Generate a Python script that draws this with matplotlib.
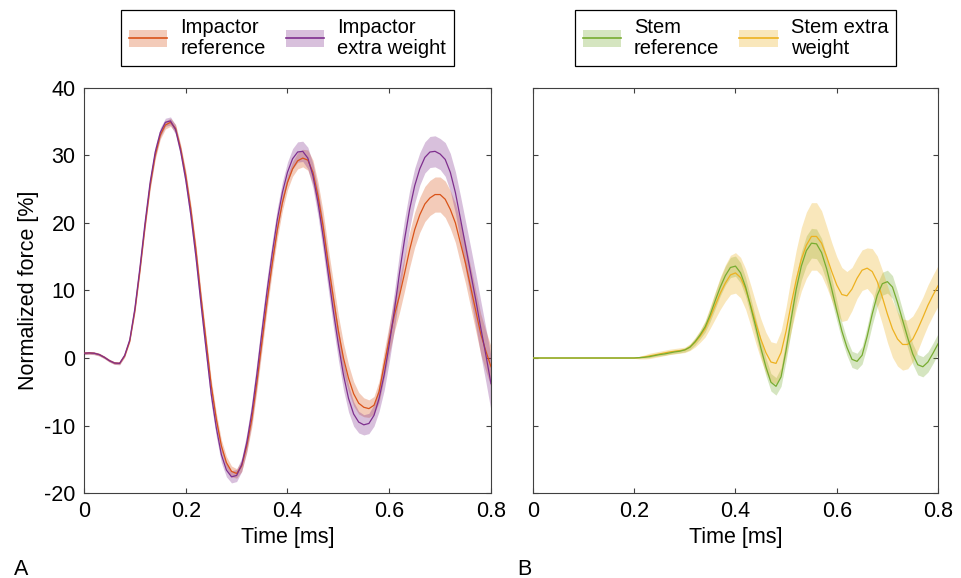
import numpy as np
import matplotlib
matplotlib.use("Agg")
import matplotlib.pyplot as plt
from matplotlib.patches import Patch
from matplotlib.lines import Line2D

plt.rcParams['font.family'] = ['Liberation Sans', 'DejaVu Sans']
plt.rcParams['font.size'] = 15.5
plt.rcParams['axes.unicode_minus'] = False

# time axis [ms], sampled every 0.01 ms
t = np.round(np.arange(0, 0.801, 0.01), 2)

# panel A: impactor, normalized force [%] (mean and band half-width)
imp_ref = [0.7, 0.75, 0.7, 0.5, 0.1, -0.4, -0.75, -0.8, 0.3, 2.5,
           7.0, 13.0, 19.5, 25.5, 30.0, 33.0, 34.5, 34.9, 34.0, 31.0,
           27.0, 22.0, 16.0, 9.0, 2.5, -4.0, -9.0, -13.0, -15.5, -16.8,
           -17.1, -16.0, -13.0, -9.0, -3.5, 2.5, 8.5, 14.0, 19.0, 23.0,
           26.0, 28.0, 29.2, 29.6, 29.3, 27.5, 24.0, 19.5, 14.0, 9.0,
           4.0, 0.0, -3.0, -5.3, -6.7, -7.3, -7.5, -7.0, -5.0, -1.0,
           2.8, 6.3, 9.2, 12.5, 16.0, 19.0, 21.2, 22.8, 23.7, 24.2,
           24.2, 23.5, 22.0, 20.0, 17.0, 14.0, 10.5, 7.0, 3.5, 1.0, -1.3]
imp_ref_sd = [0.2] * 10 + \
    [0.4, 0.5, 0.5, 0.6, 0.6, 0.6, 0.6, 0.6, 0.6, 0.6,
     0.8, 0.8, 0.9, 0.9, 0.9, 0.9, 0.9, 0.9, 0.9, 0.8,
     0.7, 0.8, 1.0, 1.2, 1.3, 1.3, 1.3, 1.3, 1.3, 1.2,
     1.1, 1.1, 1.2, 1.3, 1.5, 1.8, 2.0, 2.2, 2.3, 2.3,
     2.3, 2.2, 2.0, 1.8, 1.6, 1.4, 1.3, 1.3, 1.6, 2.0,
     2.2, 2.4, 2.5, 2.6, 2.6, 2.6, 2.6, 2.6, 2.6, 2.6,
     2.6, 2.7, 2.8, 2.9, 3.0, 3.0, 3.0, 3.0, 3.0, 3.0, 3.0]

imp_xw = [0.7, 0.75, 0.7, 0.5, 0.1, -0.4, -0.75, -0.8, 0.4, 2.7,
          7.3, 13.4, 20.0, 26.0, 30.5, 33.4, 34.9, 35.1, 33.8, 30.6,
          26.4, 21.2, 15.0, 8.0, 1.3, -5.3, -10.3, -14.3, -16.6, -17.6,
          -17.4, -15.8, -12.5, -8.0, -2.3, 4.0, 10.0, 15.5, 20.5, 24.5,
          27.5, 29.5, 30.5, 30.6, 29.6, 27.0, 23.0, 18.0, 12.5, 7.0,
          2.0, -2.5, -6.0, -8.3, -9.5, -9.9, -9.7, -8.5, -6.0, -2.5,
          2.0, 7.0, 12.5, 17.5, 22.0, 25.5, 28.0, 29.7, 30.5, 30.6,
          30.2, 29.4, 27.5, 24.5, 20.6, 16.6, 12.6, 8.6, 4.4, 0.4, -3.8]
imp_xw_sd = [0.2] * 10 + \
    [0.5, 0.6, 0.7, 0.8, 0.8, 0.7, 0.6, 0.6, 0.7, 0.8,
     1.0, 1.2, 1.3, 1.4, 1.4, 1.4, 1.3, 1.2, 1.0, 0.9,
     0.9, 1.0, 1.3, 1.6, 1.8, 1.9, 1.9, 1.8, 1.7, 1.6,
     1.5, 1.5, 1.5, 1.5, 1.6, 1.8, 2.0, 2.2, 2.3, 2.3,
     2.3, 2.2, 2.0, 1.8, 1.6, 1.5, 1.5, 1.6, 1.9, 2.3,
     2.6, 2.8, 3.0, 3.0, 2.8, 2.6, 2.4, 2.3, 2.3, 2.3,
     2.3, 2.5, 2.8, 3.1, 3.4, 3.6, 3.8, 3.9, 4.0, 4.0, 4.0]

# panel B: stem
stem_ref = [0.0] * 21 + \
    [0.05, 0.1, 0.2, 0.35, 0.5, 0.6, 0.75, 0.9, 1.0, 1.2,
     1.6, 2.4, 3.4, 4.6, 6.4, 8.5, 10.5, 12.2, 13.4, 13.6,
     12.6, 10.5, 7.6, 4.6, 1.5, -1.3, -3.6, -4.2, -2.8, 1.2,
     5.8, 10.2, 13.6, 15.9, 17.0, 16.9, 15.6, 13.2, 10.2, 7.0,
     4.0, 1.6, -0.2, -0.5, 0.4, 3.2, 6.5, 9.3, 11.0, 11.3,
     10.5, 8.2, 5.6, 3.0, 0.6, -1.0, -1.3, -0.6, 0.7, 2.1]
stem_ref_sd = [0.05] * 21 + \
    [0.1, 0.1, 0.15, 0.15, 0.2, 0.2, 0.2, 0.25, 0.25, 0.3,
     0.4, 0.5, 0.6, 0.8, 1.0, 1.2, 1.3, 1.4, 1.5, 1.5,
     1.5, 1.4, 1.3, 1.3, 1.3, 1.3, 1.3, 1.3, 1.4, 1.6,
     1.8, 2.0, 2.1, 2.2, 2.2, 2.2, 2.1, 1.9, 1.7, 1.5,
     1.3, 1.2, 1.2, 1.2, 1.3, 1.5, 1.6, 1.7, 1.7, 1.7,
     1.7, 1.6, 1.5, 1.5, 1.5, 1.5, 1.5, 1.5, 1.5, 1.5]

stem_xw = [0.0] * 21 + \
    [0.05, 0.15, 0.3, 0.45, 0.6, 0.75, 0.9, 1.0, 1.1, 1.2,
     1.6, 2.3, 3.2, 4.3, 6.0, 7.8, 9.6, 11.1, 12.3, 12.6,
     11.9, 10.2, 7.8, 5.2, 2.8, 0.8, -0.6, -0.8, 0.8, 4.0,
     8.0, 11.6, 14.6, 16.7, 18.0, 18.0, 17.0, 15.0, 12.8, 10.8,
     9.4, 9.2, 10.2, 11.8, 13.0, 13.3, 12.8, 11.3, 9.0, 6.5,
     4.3, 2.8, 2.0, 2.0, 2.8, 4.3, 6.0, 7.8, 9.3, 10.7]
stem_xw_sd = [0.05] * 21 + \
    [0.2, 0.3, 0.4, 0.4, 0.4, 0.4, 0.4, 0.4, 0.4, 0.4,
     0.5, 0.7, 0.9, 1.2, 1.6, 2.0, 2.4, 2.7, 2.9, 3.0,
     3.0, 3.0, 3.0, 3.0, 3.0, 3.0, 3.0, 3.0, 3.2, 3.6,
     4.0, 4.4, 4.7, 4.9, 5.0, 5.0, 4.8, 4.5, 4.3, 4.2,
     4.0, 3.6, 3.2, 3.0, 3.0, 3.0, 3.4, 3.8, 4.0, 4.2,
     4.2, 4.0, 3.8, 3.6, 3.4, 3.2, 3.0, 3.0, 3.0, 3.0]

# (label, mean, half-width, colour, line zorder)
panel_a = [("Impactor\nreference", imp_ref, imp_ref_sd, "#D95319", 3),
           ("Impactor\nextra weight", imp_xw, imp_xw_sd, "#7E2F8E", 4)]
panel_b = [("Stem\nreference", stem_ref, stem_ref_sd, "#77AC30", 4),
           ("Stem extra\nweight", stem_xw, stem_xw_sd, "#EDB120", 3)]

fig = plt.figure(figsize=(9.62, 5.78), dpi=100)
ax1 = fig.add_axes([0.0873, 0.147, 0.4231, 0.701])
ax2 = fig.add_axes([0.554, 0.147, 0.4211, 0.701])

for ax, series in [(ax1, panel_a), (ax2, panel_b)]:
    handles = []
    for label, m, sd, c, z in series:
        m = np.array(m)
        sd = np.array(sd)
        ax.fill_between(t, m - sd, m + sd, color=c, alpha=0.3, lw=0, zorder=2)
        ax.plot(t, m, color=c, lw=0.9, zorder=z)
        handles.append((Patch(facecolor=c, alpha=0.3, lw=0),
                        Line2D([], [], color=c, lw=1.2)))
    ax.set_xlim(0, 0.8)
    ax.set_ylim(-20, 40)
    ax.set_xticks([0, 0.2, 0.4, 0.6, 0.8])
    ax.set_xticklabels(["0", "0.2", "0.4", "0.6", "0.8"])
    ax.set_yticks([-20, -10, 0, 10, 20, 30, 40])
    ax.tick_params(direction="in", top=True, right=True, length=3.5,
                   width=0.8, color="#404040", pad=6)
    for s in ax.spines.values():
        s.set_color("#404040")
        s.set_linewidth(0.8)
    ax.set_xlabel("Time [ms]", labelpad=3)
    leg = ax.legend(handles, [s[0] for s in series], ncol=2, fontsize=14.5,
                    loc="upper center", bbox_to_anchor=(0.5, 1.193),
                    fancybox=False, edgecolor="black", framealpha=1,
                    handlelength=1.9, handleheight=0.9, columnspacing=1.0,
                    handletextpad=0.65, borderpad=0.4, borderaxespad=0)
    leg.get_frame().set_linewidth(0.9)
    for txt in leg.get_texts():
        txt.set_multialignment("left")
        txt.set_linespacing(1.15)

ax1.set_ylabel("Normalized force [%]", labelpad=4)
ax2.set_yticklabels([])

fig.text(0.014, 0.006, "A", fontsize=15.5)
fig.text(0.538, 0.006, "B", fontsize=15.5)

fig.savefig("out.png", dpi=100)
